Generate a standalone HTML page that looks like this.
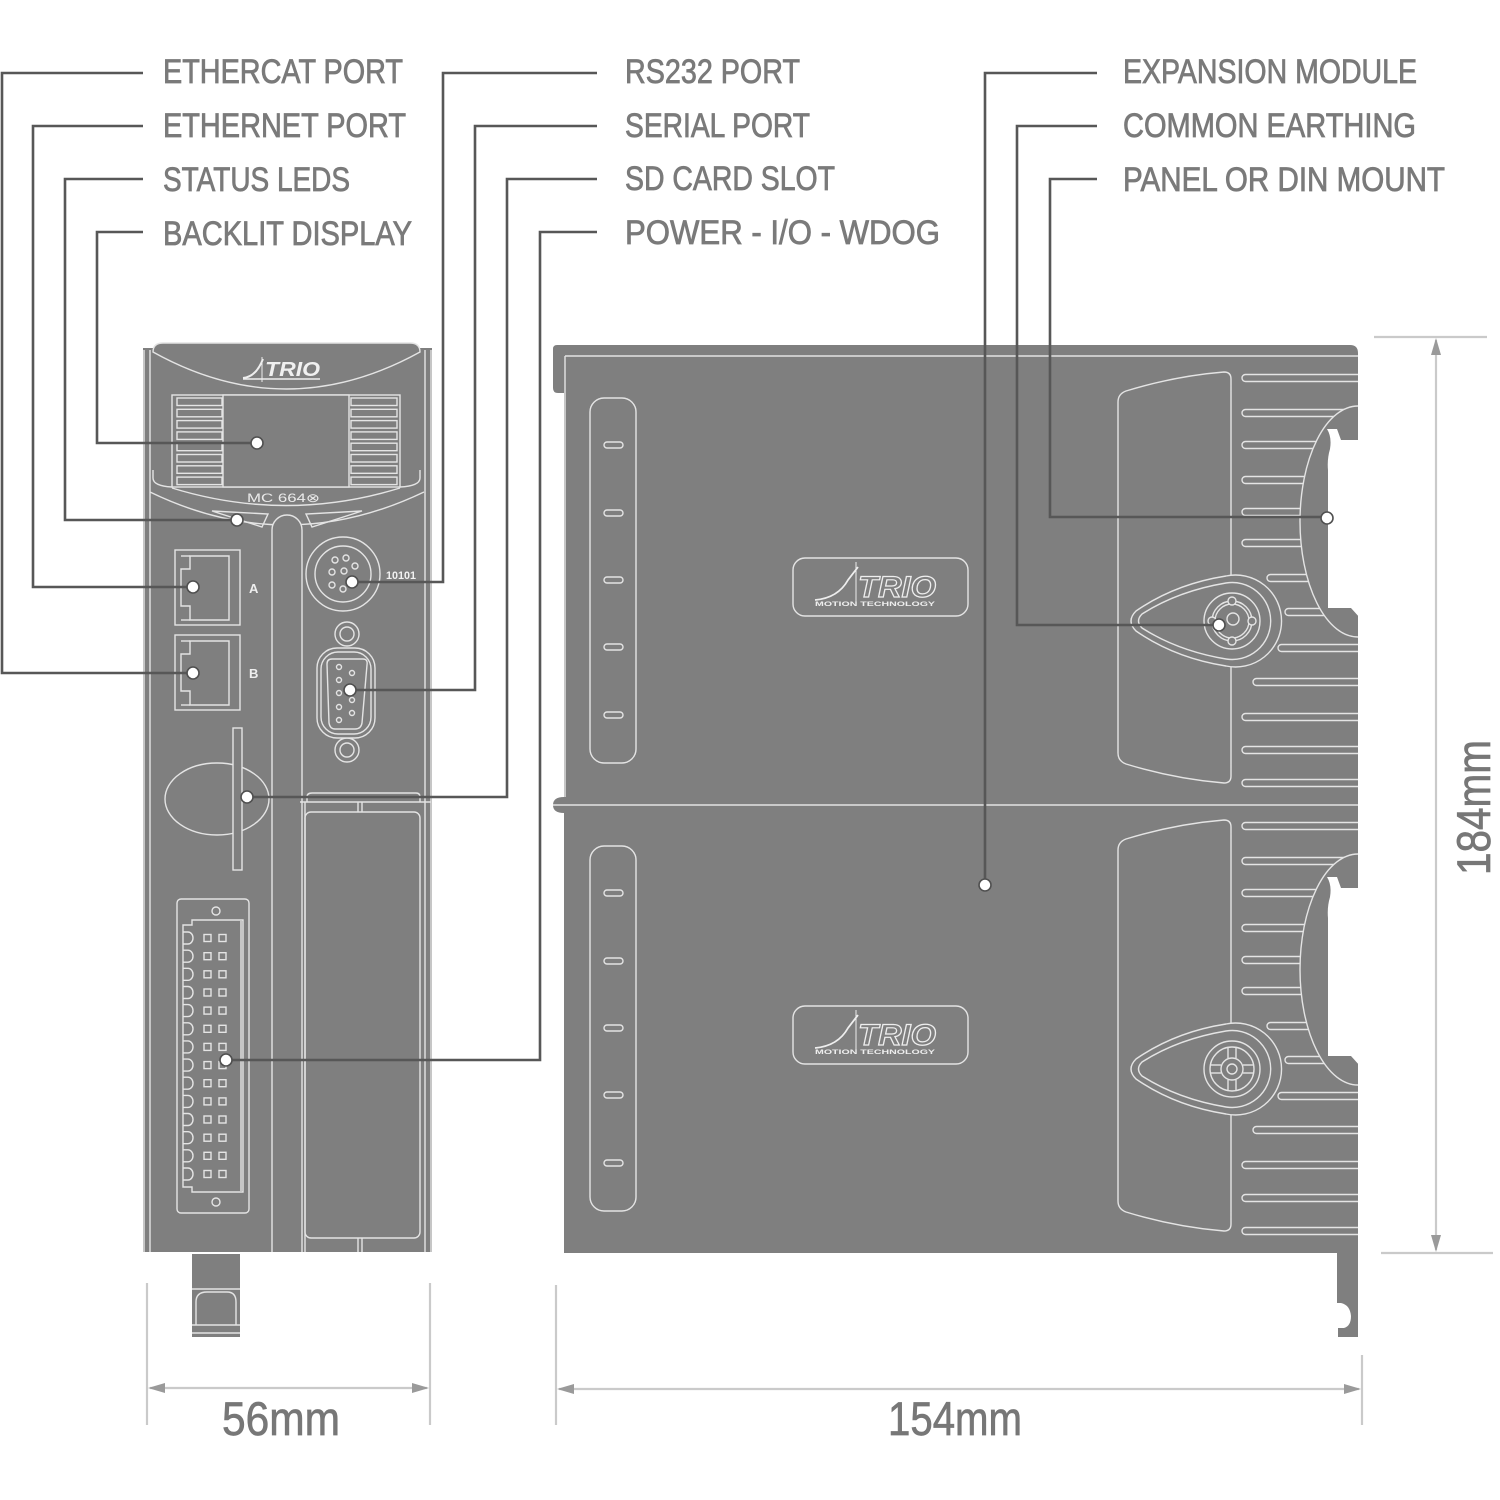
<!DOCTYPE html>
<html><head><meta charset="utf-8">
<style>
html,body{margin:0;padding:0;background:#fff;}
svg{display:block;}
.lb{font-family:"Liberation Sans",sans-serif;font-size:34px;fill:#7a7a7a;stroke:#7a7a7a;stroke-width:0.8;}
.dm{font-family:"Liberation Sans",sans-serif;font-size:47px;fill:#777;stroke:#777;stroke-width:0.7;}
.ln{stroke:#e4e4e4;stroke-width:1.4;fill:none;}
.lf{stroke:#e4e4e4;stroke-width:1.4;fill:#7f7f7f;}
.ld{stroke:#575757;stroke-width:2.6;fill:none;}
.dt{fill:#fff;stroke:#505050;stroke-width:1.6;}
.dl{stroke:#cacaca;stroke-width:2.2;fill:none;}
</style></head><body>
<svg width="1500" height="1500" viewBox="0 0 1500 1500" xmlns="http://www.w3.org/2000/svg">
<defs>
<clipPath id="sc"><rect x="540" y="330" width="818" height="1020"/></clipPath>
</defs>
<rect x="0" y="0" width="1500" height="1500" fill="#fff"/>

<!-- ===== FRONT UNIT ===== -->
<g>
<rect x="143" y="348" width="289" height="904" fill="#7f7f7f"/>
<line x1="144" y1="350" x2="144" y2="1252" class="ln"/>
<line x1="150" y1="350" x2="150" y2="1252" class="ln"/>
<line x1="425" y1="350" x2="425" y2="1252" class="ln"/>
<line x1="431" y1="350" x2="431" y2="1252" class="ln"/>
<path d="M153,352 Q153,343 163,343 H410 Q420,343 420,352 Q286,426 153,352 Z" fill="#7f7f7f" stroke="#e4e4e4" stroke-width="1.4"/>
<path d="M243,378 Q256,377 263,359" stroke="#eee" stroke-width="2" fill="none"/>
<line x1="243" y1="379" x2="320" y2="379" stroke="#eee" stroke-width="1.6"/>
<line x1="262" y1="357" x2="262" y2="382" stroke="#eee" stroke-width="1"/>
<text x="265" y="376" font-family="Liberation Sans,sans-serif" font-size="20" font-weight="bold" font-style="italic" fill="#f0f0f0" textLength="55" lengthAdjust="spacingAndGlyphs">TRIO</text>
<rect x="172" y="395" width="228" height="92" class="ln"/>
<rect x="223" y="395" width="126" height="92" class="lf"/>
<g class="ln">
<rect x="177" y="398" width="45" height="7.5"/><rect x="177" y="409.3" width="45" height="7.5"/><rect x="177" y="420.6" width="45" height="7.5"/><rect x="177" y="431.9" width="45" height="7.5"/><rect x="177" y="443.2" width="45" height="7.5"/><rect x="177" y="454.5" width="45" height="7.5"/><rect x="177" y="465.8" width="45" height="7.5"/><rect x="177" y="477.1" width="45" height="7.5"/>
<rect x="351" y="398" width="46" height="7.5"/><rect x="351" y="409.3" width="46" height="7.5"/><rect x="351" y="420.6" width="46" height="7.5"/><rect x="351" y="431.9" width="46" height="7.5"/><rect x="351" y="443.2" width="46" height="7.5"/><rect x="351" y="454.5" width="46" height="7.5"/><rect x="351" y="465.8" width="46" height="7.5"/><rect x="351" y="477.1" width="46" height="7.5"/>
</g>
<path d="M153,470 V478 Q153,486 172,487" class="ln"/>
<path d="M420,470 V478 Q420,486 400,487" class="ln"/>
<path d="M172,488 Q286,523 400,488" class="ln"/>
<text x="247" y="502" font-family="Liberation Sans,sans-serif" font-size="12" fill="#eaeaea" textLength="73" lengthAdjust="spacingAndGlyphs">MC 664⊗</text>
<path d="M150,492 Q286,558 424,492" class="ln"/>
<polygon points="212,511 268,514 262,527" class="ln"/>
<polygon points="362,511 306,514 312,527" class="ln"/>
<path d="M272,1252 V530 A15,15 0 0 1 302,530 V1252" class="lf"/>
<rect x="175" y="550" width="65" height="75" class="ln"/>
<path d="M190,556 H229 V620 H190 V606 H181 V569 H190 Z" class="ln"/>
<line x1="181" y1="556" x2="190" y2="556" class="ln"/><line x1="181" y1="620" x2="190" y2="620" class="ln"/>
<rect x="175" y="635" width="65" height="75" class="ln"/>
<path d="M190,641 H229 V705 H190 V691 H181 V654 H190 Z" class="ln"/>
<line x1="181" y1="641" x2="190" y2="641" class="ln"/><line x1="181" y1="705" x2="190" y2="705" class="ln"/>
<text x="249" y="593" font-family="Liberation Sans,sans-serif" font-size="13" font-weight="bold" fill="#eee">A</text>
<text x="249" y="678" font-family="Liberation Sans,sans-serif" font-size="13" font-weight="bold" fill="#eee">B</text>
<circle cx="343" cy="574" r="37" class="ln"/>
<circle cx="343" cy="574" r="28" class="ln"/>
<g class="ln">
<circle cx="335" cy="560" r="3"/><circle cx="346" cy="558" r="3"/><circle cx="355" cy="566" r="3"/><circle cx="344" cy="571" r="3"/><circle cx="332" cy="572" r="3"/><circle cx="332" cy="585" r="3"/><circle cx="343" cy="589" r="3"/><circle cx="355" cy="582" r="3"/>
</g>
<text x="386" y="579" font-family="Liberation Sans,sans-serif" font-size="11" font-weight="bold" fill="#f2f2f2" textLength="30" lengthAdjust="spacingAndGlyphs">10101</text>
<circle cx="347" cy="634" r="12" class="ln"/><circle cx="347" cy="634" r="7" class="ln"/>
<circle cx="347" cy="750" r="12" class="ln"/><circle cx="347" cy="750" r="7" class="ln"/>
<rect x="317" y="648" width="58" height="90" rx="20" class="lf"/>
<rect x="321" y="652" width="50" height="82" rx="17" class="ln"/>
<path d="M327,664 Q327,659 332,659 H363 Q368,659 367,665 L362,723 Q361,729 355,729 H335 Q330,729 329,723 Z" class="ln"/>
<g class="ln">
<circle cx="339" cy="667" r="2.5"/><circle cx="339" cy="680" r="2.5"/><circle cx="339" cy="693" r="2.5"/><circle cx="339" cy="707" r="2.5"/><circle cx="339" cy="720" r="2.5"/>
<circle cx="352" cy="673" r="2.5"/><circle cx="352" cy="687" r="2.5"/><circle cx="352" cy="700" r="2.5"/><circle cx="352" cy="713" r="2.5"/>
</g>
<ellipse cx="217" cy="799" rx="52" ry="36" class="ln"/>
<rect x="233" y="728" width="9" height="142" class="lf"/>
<line x1="305" y1="802" x2="305" y2="1252" class="ln"/>
<line x1="300" y1="802" x2="431" y2="802" class="ln"/>
<path d="M307,802 V797 Q307,793 312,793 H416 Q420,793 420,797 V802" class="ln"/>
<rect x="305" y="812" width="115" height="426" rx="6" class="ln"/>
<line x1="358" y1="802" x2="358" y2="812" class="ln"/><line x1="362" y1="802" x2="362" y2="812" class="ln"/>
<line x1="358" y1="1238" x2="358" y2="1252" class="ln"/><line x1="362" y1="1238" x2="362" y2="1252" class="ln"/>
<rect x="177" y="899" width="72" height="314" rx="4" class="ln"/>
<circle cx="216" cy="911" r="4" class="ln"/><circle cx="216" cy="1202" r="4" class="ln"/>
<path d="M192,920 H243 V1192 H192 V1187 H183 V925 H192 Z" class="ln"/>
<line x1="241" y1="921" x2="241" y2="1191" class="ln"/>
<g class="ln">
<path d="M183,932 H188 A5,6 0 0 1 188,944 H183"/><rect x="204" y="934.5" width="7" height="7"/><rect x="219" y="934.5" width="7" height="7"/>
<path d="M183,950.2 H188 A5,6 0 0 1 188,962.2 H183"/><rect x="204" y="952.7" width="7" height="7"/><rect x="219" y="952.7" width="7" height="7"/>
<path d="M183,968.3 H188 A5,6 0 0 1 188,980.3 H183"/><rect x="204" y="970.8" width="7" height="7"/><rect x="219" y="970.8" width="7" height="7"/>
<path d="M183,986.5 H188 A5,6 0 0 1 188,998.5 H183"/><rect x="204" y="989" width="7" height="7"/><rect x="219" y="989" width="7" height="7"/>
<path d="M183,1004.6 H188 A5,6 0 0 1 188,1016.6 H183"/><rect x="204" y="1007.1" width="7" height="7"/><rect x="219" y="1007.1" width="7" height="7"/>
<path d="M183,1022.8 H188 A5,6 0 0 1 188,1034.8 H183"/><rect x="204" y="1025.3" width="7" height="7"/><rect x="219" y="1025.3" width="7" height="7"/>
<path d="M183,1040.9 H188 A5,6 0 0 1 188,1052.9 H183"/><rect x="204" y="1043.4" width="7" height="7"/><rect x="219" y="1043.4" width="7" height="7"/>
<path d="M183,1059.1 H188 A5,6 0 0 1 188,1071.1 H183"/><rect x="204" y="1061.6" width="7" height="7"/><rect x="219" y="1061.6" width="7" height="7"/>
<path d="M183,1077.2 H188 A5,6 0 0 1 188,1089.2 H183"/><rect x="204" y="1079.7" width="7" height="7"/><rect x="219" y="1079.7" width="7" height="7"/>
<path d="M183,1095.4 H188 A5,6 0 0 1 188,1107.4 H183"/><rect x="204" y="1097.9" width="7" height="7"/><rect x="219" y="1097.9" width="7" height="7"/>
<path d="M183,1113.5 H188 A5,6 0 0 1 188,1125.5 H183"/><rect x="204" y="1116" width="7" height="7"/><rect x="219" y="1116" width="7" height="7"/>
<path d="M183,1131.7 H188 A5,6 0 0 1 188,1143.7 H183"/><rect x="204" y="1134.2" width="7" height="7"/><rect x="219" y="1134.2" width="7" height="7"/>
<path d="M183,1149.8 H188 A5,6 0 0 1 188,1161.8 H183"/><rect x="204" y="1152.3" width="7" height="7"/><rect x="219" y="1152.3" width="7" height="7"/>
<path d="M183,1168 H188 A5,6 0 0 1 188,1180 H183"/><rect x="204" y="1170.5" width="7" height="7"/><rect x="219" y="1170.5" width="7" height="7"/>
</g>
<rect x="192" y="1254" width="48" height="83" fill="#7f7f7f"/>
<path d="M196,1325 V1302 Q196,1292 207,1292 H227 Q236,1292 236,1302 V1325" class="ln"/>
<line x1="192" y1="1289" x2="240" y2="1289" class="ln"/>
<line x1="192" y1="1325" x2="240" y2="1325" class="ln"/>
<line x1="192" y1="1333" x2="240" y2="1333" class="ln"/>
</g>

<!-- ===== SIDE UNIT ===== -->
<g>
<path d="M553,349 Q553,345 557,345 H1350 Q1358,345 1358,353 V1253 H564 V813 Q553,813 553,805 Q553,797 564,797 V393 H558 Q553,393 553,388 Z" fill="#7f7f7f"/>
<line x1="565" y1="356" x2="1358" y2="356" class="ln"/>
<line x1="565" y1="356" x2="565" y2="797" class="ln"/>
<line x1="553" y1="805" x2="1358" y2="805" class="ln"/>
<path d="M1337,1252 H1358 V1337 H1338 V1328 H1344 Q1351,1326 1351,1316 Q1350,1305 1341,1303 H1337 Z" fill="#7f7f7f"/>

<g clip-path="url(#sc)">
<g>
<rect x="590" y="398" width="46" height="365" rx="14" class="ln"/>
<g class="ln">
<rect x="604" y="442" width="19" height="6" rx="3"/><rect x="604" y="510" width="19" height="6" rx="3"/><rect x="604" y="577" width="19" height="6" rx="3"/><rect x="604" y="644" width="19" height="6" rx="3"/><rect x="604" y="712" width="19" height="6" rx="3"/>
</g>
<rect x="793" y="558" width="175" height="58" rx="12" class="ln"/>
<path d="M815,600 Q838,598 848,580 L858,567" stroke="#eee" stroke-width="1.8" fill="none"/>
<line x1="856" y1="562" x2="856" y2="606" stroke="#eee" stroke-width="1"/>
<text x="858" y="597" font-family="Liberation Sans,sans-serif" font-size="30" font-weight="bold" font-style="italic" fill="#7f7f7f" stroke="#eee" stroke-width="1.2" textLength="78" lengthAdjust="spacingAndGlyphs">TRIO</text>
<text x="815" y="606" font-family="Liberation Sans,sans-serif" font-size="6" font-weight="bold" fill="#eee" textLength="120" lengthAdjust="spacingAndGlyphs">MOTION TECHNOLOGY</text>
<g class="ln">
<rect x="1242" y="374.5" width="130" height="7" rx="3.5"/>
<rect x="1242" y="409.5" width="130" height="7" rx="3.5"/>
<rect x="1242" y="441.5" width="130" height="7" rx="3.5"/>
<rect x="1242" y="476.5" width="130" height="7" rx="3.5"/>
<rect x="1242" y="508.5" width="130" height="7" rx="3.5"/>
<rect x="1242" y="539.5" width="130" height="7" rx="3.5"/>
<rect x="1267" y="574.5" width="110" height="7" rx="3.5"/>
<rect x="1285" y="608.5" width="90" height="7" rx="3.5"/>
<rect x="1278" y="644.5" width="100" height="7" rx="3.5"/>
<rect x="1253" y="678.5" width="120" height="7" rx="3.5"/>
<rect x="1242" y="713.5" width="130" height="7" rx="3.5"/>
<rect x="1242" y="746.5" width="130" height="7" rx="3.5"/>
<rect x="1242" y="779.5" width="130" height="7" rx="3.5"/>
</g>
<path d="M1358,406 A58,115.5 0 0 0 1358,637" fill="#7f7f7f" stroke="#e4e4e4" stroke-width="1.4"/>
<path d="M1360,440 H1341 L1337,429 H1327 Q1332,437 1330,449 Q1327,459 1328,470 V608 H1351 L1360,618 Z" fill="#fff"/>
<path d="M1231,577 V379 Q1231,372 1224,372 Q1175,376 1126,391 Q1118,394 1118,402 V753 Q1118,761 1126,764 Q1175,779 1224,783 Q1231,783 1231,776 V667" class="ln"/>
<path d="M1136,611 Q1175,584 1226,576 A46,46 0 1 1 1226,666 Q1175,658 1136,631 Q1126,621 1136,611 Z" class="lf"/>
<path d="M1142,614 Q1178,591 1226,583 A38.5,38.5 0 1 1 1226,659 Q1178,651 1142,628 Q1135,621 1142,614 Z" class="ln"/>
<circle cx="1232" cy="621" r="28" class="ln"/>
<circle cx="1232" cy="621" r="20" class="ln"/>
<circle cx="1232" cy="621" r="17" class="ln"/>
<g class="lf">
<circle cx="1232" cy="601" r="4"/><circle cx="1252" cy="621" r="4"/><circle cx="1232" cy="641" r="4"/><circle cx="1212" cy="621" r="4"/>
</g>
<circle cx="1233" cy="619" r="6" class="ln"/>
</g>

<g transform="translate(0,448)">
<rect x="590" y="398" width="46" height="365" rx="14" class="ln"/>
<g class="ln">
<rect x="604" y="442" width="19" height="6" rx="3"/><rect x="604" y="510" width="19" height="6" rx="3"/><rect x="604" y="577" width="19" height="6" rx="3"/><rect x="604" y="644" width="19" height="6" rx="3"/><rect x="604" y="712" width="19" height="6" rx="3"/>
</g>
<rect x="793" y="558" width="175" height="58" rx="12" class="ln"/>
<path d="M815,600 Q838,598 848,580 L858,567" stroke="#eee" stroke-width="1.8" fill="none"/>
<line x1="856" y1="562" x2="856" y2="606" stroke="#eee" stroke-width="1"/>
<text x="858" y="597" font-family="Liberation Sans,sans-serif" font-size="30" font-weight="bold" font-style="italic" fill="#7f7f7f" stroke="#eee" stroke-width="1.2" textLength="78" lengthAdjust="spacingAndGlyphs">TRIO</text>
<text x="815" y="606" font-family="Liberation Sans,sans-serif" font-size="6" font-weight="bold" fill="#eee" textLength="120" lengthAdjust="spacingAndGlyphs">MOTION TECHNOLOGY</text>
<g class="ln">
<rect x="1242" y="374.5" width="130" height="7" rx="3.5"/>
<rect x="1242" y="409.5" width="130" height="7" rx="3.5"/>
<rect x="1242" y="441.5" width="130" height="7" rx="3.5"/>
<rect x="1242" y="476.5" width="130" height="7" rx="3.5"/>
<rect x="1242" y="508.5" width="130" height="7" rx="3.5"/>
<rect x="1242" y="539.5" width="130" height="7" rx="3.5"/>
<rect x="1267" y="574.5" width="110" height="7" rx="3.5"/>
<rect x="1285" y="608.5" width="90" height="7" rx="3.5"/>
<rect x="1278" y="644.5" width="100" height="7" rx="3.5"/>
<rect x="1253" y="678.5" width="120" height="7" rx="3.5"/>
<rect x="1242" y="713.5" width="130" height="7" rx="3.5"/>
<rect x="1242" y="746.5" width="130" height="7" rx="3.5"/>
<rect x="1242" y="779.5" width="130" height="7" rx="3.5"/>
</g>
<path d="M1358,406 A58,115.5 0 0 0 1358,637" fill="#7f7f7f" stroke="#e4e4e4" stroke-width="1.4"/>
<path d="M1360,440 H1341 L1337,429 H1327 Q1332,437 1330,449 Q1327,459 1328,470 V608 H1351 L1360,618 Z" fill="#fff"/>
<path d="M1231,577 V379 Q1231,372 1224,372 Q1175,376 1126,391 Q1118,394 1118,402 V753 Q1118,761 1126,764 Q1175,779 1224,783 Q1231,783 1231,776 V667" class="ln"/>
<path d="M1136,611 Q1175,584 1226,576 A46,46 0 1 1 1226,666 Q1175,658 1136,631 Q1126,621 1136,611 Z" class="lf"/>
<path d="M1142,614 Q1178,591 1226,583 A38.5,38.5 0 1 1 1226,659 Q1178,651 1142,628 Q1135,621 1142,614 Z" class="ln"/>
<circle cx="1232" cy="621" r="28" class="ln"/>
<circle cx="1232" cy="621" r="22" class="ln"/>
<circle cx="1232" cy="621" r="11" class="ln"/>
<circle cx="1232" cy="621" r="5" class="ln"/>
<g class="ln">
<line x1="1228" y1="599" x2="1228" y2="610"/><line x1="1236" y1="599" x2="1236" y2="610"/>
<line x1="1228" y1="632" x2="1228" y2="643"/><line x1="1236" y1="632" x2="1236" y2="643"/>
<line x1="1210" y1="617" x2="1221" y2="617"/><line x1="1210" y1="625" x2="1221" y2="625"/>
<line x1="1243" y1="617" x2="1254" y2="617"/><line x1="1243" y1="625" x2="1254" y2="625"/>
</g>
</g>
</g>
</g>

<!-- ===== LEADER LINES ===== -->
<g class="ld">
<path d="M143,73 H2 V673 H193"/>
<path d="M143,126 H33 V587 H193"/>
<path d="M143,179 H65 V520 H237"/>
<path d="M143,232 H97 V443 H257"/>
<path d="M597,73 H443 V582 H352"/>
<path d="M597,126 H475 V690 H350"/>
<path d="M597,179 H507 V797 H247"/>
<path d="M597,232 H540 V1060 H226"/>
<path d="M1097,73 H985 V885"/>
<path d="M1097,126 H1017 V625 H1219"/>
<path d="M1097,179 H1050 V517 H1327"/>
</g>
<g class="dt">
<circle cx="193" cy="673" r="6"/><circle cx="193" cy="587" r="6"/><circle cx="237" cy="520" r="6"/><circle cx="257" cy="443" r="6"/>
<circle cx="352" cy="582" r="6"/><circle cx="350" cy="690" r="6"/><circle cx="247" cy="797" r="6"/><circle cx="226" cy="1060" r="6"/>
<circle cx="985" cy="885" r="6"/><circle cx="1219" cy="625" r="6"/><circle cx="1327" cy="518" r="6"/>
</g>

<!-- ===== LABELS ===== -->
<g class="lb">
<text x="163" y="83" textLength="240" lengthAdjust="spacingAndGlyphs">ETHERCAT PORT</text>
<text x="163" y="137" textLength="243" lengthAdjust="spacingAndGlyphs">ETHERNET PORT</text>
<text x="163" y="191" textLength="187" lengthAdjust="spacingAndGlyphs">STATUS LEDS</text>
<text x="163" y="245" textLength="249" lengthAdjust="spacingAndGlyphs">BACKLIT DISPLAY</text>
<text x="625" y="83" textLength="175" lengthAdjust="spacingAndGlyphs">RS232 PORT</text>
<text x="625" y="137" textLength="185" lengthAdjust="spacingAndGlyphs">SERIAL PORT</text>
<text x="625" y="190" textLength="210" lengthAdjust="spacingAndGlyphs">SD CARD SLOT</text>
<text x="625" y="244" textLength="315" lengthAdjust="spacingAndGlyphs">POWER - I/O - WDOG</text>
<text x="1123" y="83" textLength="294" lengthAdjust="spacingAndGlyphs">EXPANSION MODULE</text>
<text x="1123" y="137" textLength="293" lengthAdjust="spacingAndGlyphs">COMMON EARTHING</text>
<text x="1123" y="191" textLength="322" lengthAdjust="spacingAndGlyphs">PANEL OR DIN MOUNT</text>
</g>

<!-- ===== DIMENSIONS ===== -->
<g class="dl">
<line x1="147" y1="1283" x2="147" y2="1425"/>
<line x1="430" y1="1283" x2="430" y2="1425"/>
<line x1="150" y1="1388" x2="427" y2="1388"/>
<line x1="556" y1="1285" x2="556" y2="1425"/>
<line x1="1362" y1="1355" x2="1362" y2="1425"/>
<line x1="559" y1="1389" x2="1359" y2="1389"/>
<line x1="1374" y1="337" x2="1487" y2="337"/>
<line x1="1381" y1="1253" x2="1493" y2="1253"/>
<line x1="1436" y1="340" x2="1436" y2="1250"/>
</g>
<g fill="#9a9a9a">
<polygon points="148,1388 165,1383 165,1393"/>
<polygon points="429,1388 412,1383 412,1393"/>
<polygon points="557,1389 574,1384 574,1394"/>
<polygon points="1361,1389 1344,1384 1344,1394"/>
<polygon points="1436,338 1431,355 1441,355"/>
<polygon points="1436,1252 1431,1235 1441,1235"/>
</g>
<text class="dm" x="222" y="1435" textLength="118" lengthAdjust="spacingAndGlyphs">56mm</text>
<text class="dm" x="888" y="1435" textLength="134" lengthAdjust="spacingAndGlyphs">154mm</text>
<text class="dm" transform="translate(1490,875) rotate(-90)" x="0" y="0" textLength="135" lengthAdjust="spacingAndGlyphs">184mm</text>
</svg>
</body></html>
